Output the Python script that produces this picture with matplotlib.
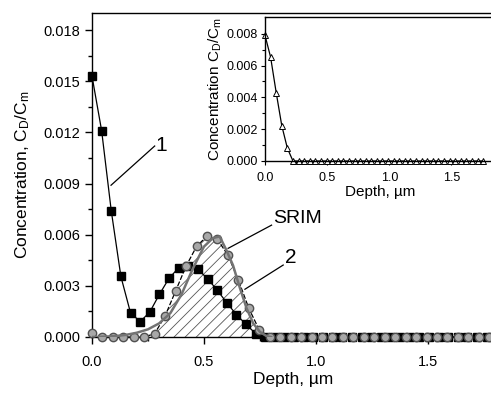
import numpy as np
import matplotlib.pyplot as plt

plt.rcParams['font.family'] = ['Liberation Sans', 'DejaVu Sans']
plt.rcParams['mathtext.default'] = 'regular'
plt.rcParams['hatch.linewidth'] = 0.6
plt.rcParams['hatch.color'] = '#555555'

# curve 1 (squares)
sq_step = 0.043
sq_y = [0.0153, 0.0121, 0.0074, 0.00355, 0.00142, 0.0009, 0.00146, 0.0025,
        0.00344, 0.00406, 0.00418, 0.00397, 0.00342, 0.00275, 0.00201,
        0.00131, 0.00074, 0.0002] + [0.0] * 24
sq_x = [sq_step * i for i in range(len(sq_y))]

# curve 2 (circles)
ci_step = 0.0467
ci_y = [0.00025, 0, 0, 0, 0, 0, 0.0002, 0.00125, 0.0027, 0.00416, 0.00531,
        0.00592, 0.00572, 0.0048, 0.00334, 0.00168, 0.00041] + [0.0] * 22
ci_x = [ci_step * i for i in range(len(ci_y))]

# SRIM profile
srim_x = [0, 0.05, 0.1, 0.15, 0.2, 0.25, 0.3, 0.35, 0.4, 0.45, 0.5, 0.54,
          0.57, 0.6, 0.63, 0.66, 0.69, 0.72, 0.75, 0.78, 0.8]
srim_y = [0, 0.00002, 0.00005, 0.00012, 0.00025, 0.00045, 0.0008, 0.0014,
          0.0025, 0.0040, 0.0053, 0.0058, 0.0059, 0.0051, 0.0042, 0.0029,
          0.0017, 0.0008, 0.0003, 0.00005, 0]

# inset (triangles)
tr_step = 0.045
tr_y = [0.0079, 0.00653, 0.0043, 0.00222, 0.0008] + [0.0] * 35
tr_x = [tr_step * i for i in range(len(tr_y))]

fig = plt.figure(figsize=(4.91, 3.94), dpi=100)
ax = fig.add_axes([92/491, 57/394, 403/491, 324/394])

# hatched area: circles on the rising side, SRIM on the falling side
peak = 0.514
hx = [x for x in ci_x if 0.2 < x <= peak] + [x for x in srim_x if x > peak]
hy = [y for x, y in zip(ci_x, ci_y) if 0.2 < x <= peak] + \
     [y for x, y in zip(srim_x, srim_y) if x > peak]
ax.fill_between(hx, 0, hy, facecolor='none', edgecolor='#555555',
                hatch='///', linewidth=0, zorder=1)

ax.plot(sq_x, sq_y, '-', color='black', lw=0.9, marker='s', ms=5.5,
        mfc='black', mec='black', zorder=3, clip_on=False)
ax.plot(ci_x, ci_y, color='black', lw=0.9, dashes=(4, 1.5), marker='o',
        ms=6, mfc='#a8a8a8', mec='#505050', mew=1.0, zorder=4, clip_on=False)
ax.plot(srim_x, srim_y, '-', color='#737373', lw=1.8, zorder=5)

ax.set_xlim(0, 1.8)
ax.set_ylim(0, 0.019)
ax.set_xticks([0, 0.5, 1.0, 1.5])
ax.set_xticklabels(['0.0', '0.5', '1.0', '1.5'])
ax.set_xticks([0.25, 0.75, 1.25, 1.75], minor=True)
ax.set_yticks([0, 0.003, 0.006, 0.009, 0.012, 0.015, 0.018])
ax.set_yticklabels(['0.000', '0.003', '0.006', '0.009', '0.012', '0.015', '0.018'])
ax.set_yticks(np.arange(0.0015, 0.019, 0.003), minor=True)
ax.tick_params(which='major', direction='out', length=5, width=1, labelsize=10.5)
ax.tick_params(axis='x', which='major', pad=8)
ax.tick_params(which='minor', direction='out', length=3, width=1)
for s in ax.spines.values():
    s.set_linewidth(1)
ax.set_xlabel('Depth, \u00b5m', fontsize=12.5, labelpad=2)
ax.set_ylabel('Concentration, C$_D$/C$_m$', fontsize=12.5, labelpad=8)

# annotations
ax.plot([0.085, 0.28], [0.0089, 0.0112], color='black', lw=0.9)
ax.text(0.285, 0.0109, '1', fontsize=15)
ax.plot([0.608, 0.802], [0.0052, 0.00656], color='black', lw=0.9)
ax.text(0.808, 0.00668, 'SRIM', fontsize=14)
ax.plot([0.683, 0.854], [0.0028, 0.00422], color='black', lw=0.9)
ax.text(0.862, 0.00434, '2', fontsize=15)

# inset
ins = fig.add_axes([265/491, (394-161)/394, 230/491, 144/394])
ins.set_facecolor('white')
ins.plot(tr_x, tr_y, '-', color='black', lw=0.9, marker='^', ms=4,
         mfc='white', mec='black', mew=0.7, clip_on=False)
ins.set_xlim(0, 1.85)
ins.set_ylim(0, 0.00905)
ins.set_xticks([0, 0.5, 1.0, 1.5])
ins.set_xticklabels(['0.0', '0.5', '1.0', '1.5'])
ins.set_xticks([0.25, 0.75, 1.25, 1.75], minor=True)
ins.set_yticks([0, 0.002, 0.004, 0.006, 0.008])
ins.set_yticklabels(['0.000', '0.002', '0.004', '0.006', '0.008'])
ins.set_yticks([0.001, 0.003, 0.005, 0.007], minor=True)
ins.tick_params(which='major', direction='out', length=3, width=0.8, labelsize=9, pad=2)
ins.tick_params(axis='x', which='major', pad=5)
ins.tick_params(which='minor', direction='out', length=2, width=0.8)
for s in ins.spines.values():
    s.set_linewidth(1)
ins.set_xlabel('Depth, \u00b5m', fontsize=11, labelpad=1)
ins.set_ylabel('Concentration C$_D$/C$_m$', fontsize=11, labelpad=2)

fig.savefig('out.png', dpi=100)
